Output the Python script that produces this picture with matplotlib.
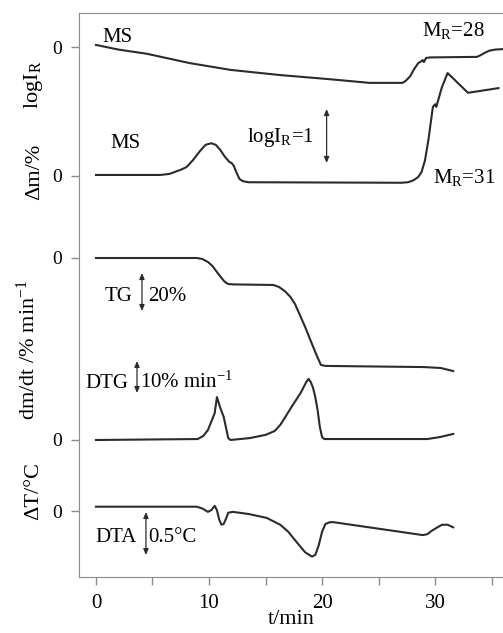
import matplotlib

matplotlib.use("Agg")

import matplotlib.pyplot as plt
import numpy as np

# mass spectrometry, M_R = 28 (log I_R)
t_ms28 = [0.0, 2.0, 4.5, 8.3, 11.9, 16.3, 20.7, 24.2, 24.9, 27.1, 27.4, 27.8,
          28.1, 28.5, 28.8, 28.9, 29.0, 29.2, 29.6, 33.7, 34.0, 34.4, 34.8,
          35.3, 36.0]
ms28 = [0.04, -0.05, -0.13, -0.31, -0.44, -0.54, -0.62, -0.69, -0.69, -0.69,
        -0.65, -0.56, -0.44, -0.31, -0.27, -0.25, -0.29, -0.21, -0.20, -0.19,
        -0.16, -0.11, -0.07, -0.05, -0.04]

# mass spectrometry, M_R = 31 (log I_R)
t_ms31 = [0.0, 5.7, 6.5, 7.5, 8.0, 8.6, 9.2, 9.7, 10.2, 10.6, 11.0, 11.4,
          11.8, 12.0, 12.2, 12.4, 12.7, 13.0, 13.5, 27.0, 27.6, 28.1, 28.5,
          28.8, 29.1, 29.4, 29.8, 30.0, 30.1, 30.6, 31.1, 32.9, 35.6]
ms31 = [0.02, 0.02, 0.04, 0.12, 0.17, 0.31, 0.48, 0.60, 0.63, 0.60, 0.50,
        0.37, 0.27, 0.25, 0.19, 0.08, -0.06, -0.10, -0.12, -0.13, -0.12,
        -0.08, -0.02, 0.08, 0.30, 0.69, 1.33, 1.38, 1.33, 1.71, 1.98, 1.60,
        1.69]

# TG, mass change in %
t_tg = [0.0, 8.9, 9.4, 9.9, 10.3, 10.7, 11.1, 11.4, 11.7, 12.2, 15.7, 16.2,
        16.7, 17.2, 17.6, 18.0, 18.5, 19.0, 19.5, 19.9, 20.3, 29.0, 30.5,
        31.6]
tg = [0.0, 0.0, -0.5, -2.1, -4.2, -7.4, -10.5, -12.6, -13.7, -13.9, -14.2,
      -15.3, -17.4, -20.5, -24.2, -29.5, -36.3, -43.7, -51.0, -56.3, -56.8,
      -57.4, -57.9, -59.5]

# DTG, % min^-1
t_dtg = [0.0, 9.0, 9.5, 9.9, 10.5, 10.7, 11.0, 11.3, 11.7, 11.9, 13.6, 15.0,
         15.8, 16.3, 16.8, 17.4, 18.1, 18.6, 18.8, 19.0, 19.2, 19.4, 19.6,
         19.8, 20.0, 20.2, 29.3, 30.4, 31.6]
dtg = [0.0, 0.3, 1.3, 3.1, 8.4, 13.4, 10.0, 7.2, 0.6, 0.0, 0.6, 1.6, 2.8,
       4.7, 7.5, 10.9, 14.7, 18.1, 19.1, 18.1, 16.3, 13.4, 9.4, 4.1, 0.9, 0.3,
       0.3, 0.9, 1.9]

# DTA, temperature difference in degC
t_dta = [0.0, 8.9, 9.4, 9.9, 10.2, 10.5, 10.7, 10.9, 11.1, 11.3, 11.5, 11.7,
         12.1, 13.5, 15.1, 16.3, 17.0, 17.8, 18.5, 19.1, 19.4, 19.7, 20.0,
         20.3, 20.7, 21.0, 28.9, 29.3, 29.7, 30.2, 30.6, 31.1, 31.6]
dta = [0.05, 0.05, 0.03, -0.01, 0.01, 0.06, 0.01, -0.10, -0.16, -0.15,
       -0.09, -0.02, -0.01, -0.035, -0.08, -0.16, -0.24, -0.37, -0.48, -0.53,
       -0.51, -0.40, -0.24, -0.15, -0.13, -0.13, -0.28, -0.27, -0.23, -0.19,
       -0.16, -0.16, -0.19]

# vertical layout: zero line of each trace and drawing scale
TRACES = [
    (t_ms28, ms28, 530, 52.0),
    (t_ms31, ms31, 401, 52.0),
    (t_tg, tg, 319, 1.9),
    (t_dtg, dtg, 137, 3.2),
    (t_dta, dta, 66, 86.0),
]

plt.rcParams["font.family"] = ["Liberation Serif", "DejaVu Serif"]
plt.rcParams["mathtext.fontset"] = "custom"
plt.rcParams["mathtext.rm"] = "Liberation Serif"
plt.rcParams["mathtext.it"] = "Liberation Serif:italic"

LINE = "#2b2b2b"
SPINE = "#8c8c8c"

fig = plt.figure(figsize=(5.03, 6.33), dpi=100)
ax = fig.add_axes([79 / 503, 56 / 633, 1 - 79 / 503, 564 / 633])

for t, values, zero, scale in TRACES:
    ax.plot(t, zero + scale * np.asarray(values), color=LINE, lw=1.5,
            solid_joinstyle="round")

ax.set_xlim(-1.5, 36.0)
ax.set_ylim(0, 564)
ax.set_xticks([0, 10, 20, 30])
ax.set_xticks([5, 15, 25, 35], minor=True)
ax.set_yticks([zero for _, _, zero, _ in TRACES])
ax.set_yticklabels(["0"] * len(TRACES))
ax.tick_params(axis="both", which="both", color=SPINE, length=6, width=1)
ax.tick_params(axis="y", labelsize=14, pad=6)
ax.tick_params(axis="x", labelsize=15, pad=6)
for side in ["left", "top", "bottom"]:
    ax.spines[side].set_color(SPINE)
ax.spines["right"].set_visible(False)
ax.set_xlabel("t/min", fontsize=16, labelpad=-2)

fig.text(0.066, 1 - 85 / 633, r"logI$_\mathregular{R}$", rotation=90,
         ha="center", va="center", fontsize=16)
fig.text(0.068, 1 - 172 / 633, "\u0394m/%", rotation=90,
         ha="center", va="center", fontsize=16)
fig.text(0.057, 1 - 350 / 633, r"dm/dt /% min$^{\mathregular{-1}}$",
         rotation=90, ha="center", va="center", fontsize=16)
fig.text(0.066, 1 - 491 / 633, "\u0394T/\u00b0C", rotation=90,
         ha="center", va="center", fontsize=16)

fs = 15
ax.text(0.6, 535, "MS", fontsize=fs)
ax.text(1.3, 429, "MS", fontsize=fs)
ax.text(28.85, 541, r"M$_\mathregular{R}$=28", fontsize=fs)
ax.text(29.8, 394, r"M$_\mathregular{R}$=31", fontsize=fs)
ax.text(13.4, 435, r"logI$_\mathregular{R}$=1", fontsize=fs)
ax.text(0.8, 276, "TG", fontsize=fs)
ax.text(4.6, 276, "20%", fontsize=fs)
ax.text(-0.97, 189, "DTG", fontsize=fs)
ax.text(3.9, 189, r"10% min$^{\mathregular{-1}}$", fontsize=fs)
ax.text(-0.09, 35, "DTA", fontsize=fs)
ax.text(4.6, 35, "0.5\u00b0C", fontsize=fs)

arrow = dict(arrowstyle="<|-|>,head_length=0.35,head_width=0.15",
             color=LINE, lw=0.9, shrinkA=0, shrinkB=0)
for x, y0, y1 in [(20.4, 414, 468), (4.07, 266, 304), (3.63, 184, 216),
                  (4.42, 22, 65)]:
    ax.annotate("", xy=(x, y1), xytext=(x, y0), arrowprops=arrow)

fig.savefig("out.png", dpi=100)
